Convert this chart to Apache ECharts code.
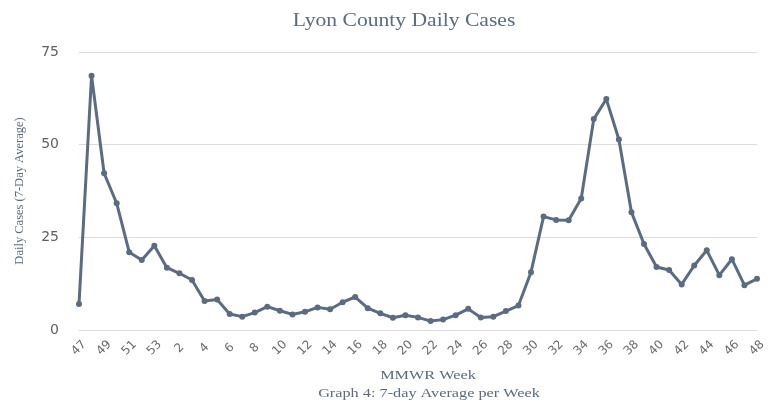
<!DOCTYPE html>
<html><head><meta charset="utf-8">
<script src="https://cdn.jsdelivr.net/npm/echarts@6/dist/echarts.min.js"></script>
<style>html,body{margin:0;padding:0;background:#fff}#c{width:775px;height:403px}</style>
</head><body><div id="c"></div>
<script>
const weeks = [47,48,49,50,51,52,53,1,2,3,4,5,6,7,8,9,10,11,12,13,14,15,16,17,18,19,20,21,22,23,24,25,26,27,28,29,30,31,32,33,34,35,36,37,38,39,40,41,42,43,44,45,46,47,48];
const dailyCases = [7.0,68.6,42.3,34.2,21.0,18.9,22.7,16.8,15.3,13.5,7.8,8.2,4.3,3.6,4.7,6.3,5.2,4.2,4.9,6.1,5.6,7.5,8.9,5.9,4.5,3.3,4.0,3.4,2.4,2.8,4.0,5.7,3.4,3.6,5.1,6.6,15.6,30.6,29.7,29.6,35.5,56.9,62.3,51.4,31.8,23.2,17.0,16.2,12.3,17.4,21.5,14.8,19.1,12.1,13.8];
const yTicks = [0,25,50,75];
const titleText = 'Lyon County Daily Cases';
const yName = 'Daily Cases (7-Day Average)';
const xName = 'MMWR Week';
const caption = 'Graph 4: 7-day Average per Week';

const chart = echarts.init(document.getElementById('c'));
const serif = '"Liberation Serif", "DejaVu Serif", serif';
const sans = '"DejaVu Sans", "Liberation Sans", sans-serif';
const txtColor = '#5b6b82';
chart.setOption({
  animation: false,
  grid: {left: 79, right: 18, top: 52, bottom: 73},
  xAxis: {type: 'category', data: weeks.map(String), boundaryGap: false,
    axisLine: {show: false}, axisTick: {show: false},
    axisLabel: {interval: 1, rotate: 45, align: 'center', verticalAlign: 'middle',
      color: '#6a6a6a', fontSize: 12, fontFamily: sans, margin: 18}},
  yAxis: {type: 'value', min: yTicks[0], max: yTicks[yTicks.length - 1], interval: 25,
    name: yName, nameLocation: 'middle', nameGap: 53, nameRotate: 90,
    nameTextStyle: {fontFamily: serif, fontSize: 12.5, color: txtColor},
    axisLine: {show: false}, axisTick: {show: false},
    axisLabel: {color: '#606060', fontSize: 14, margin: 20, fontFamily: sans},
    splitLine: {lineStyle: {color: '#dcdcdc', width: 1}}},
  graphic: [
    {type: 'text', x: 404, y: 21, scaleX: 1.2,
      style: {text: titleText, x: 0, y: 0, textAlign: 'center', textVerticalAlign: 'middle',
        fontFamily: serif, fontSize: 18, fill: txtColor}},
    {type: 'text', x: 428, y: 376, scaleX: 1.25,
      style: {text: xName, x: 0, y: 0, textAlign: 'center', textVerticalAlign: 'middle',
        fontFamily: serif, fontSize: 13, fill: txtColor}},
    {type: 'text', x: 429, y: 394, scaleX: 1.25,
      style: {text: caption, x: 0, y: 0, textAlign: 'center', textVerticalAlign: 'middle',
        fontFamily: serif, fontSize: 13, fill: txtColor}}
  ],
  series: [{type: 'line', data: dailyCases, symbol: 'circle', symbolSize: 6,
    lineStyle: {color: '#5b6b82', width: 3}, itemStyle: {color: '#5b6b82'}}]
});
</script></body></html>
